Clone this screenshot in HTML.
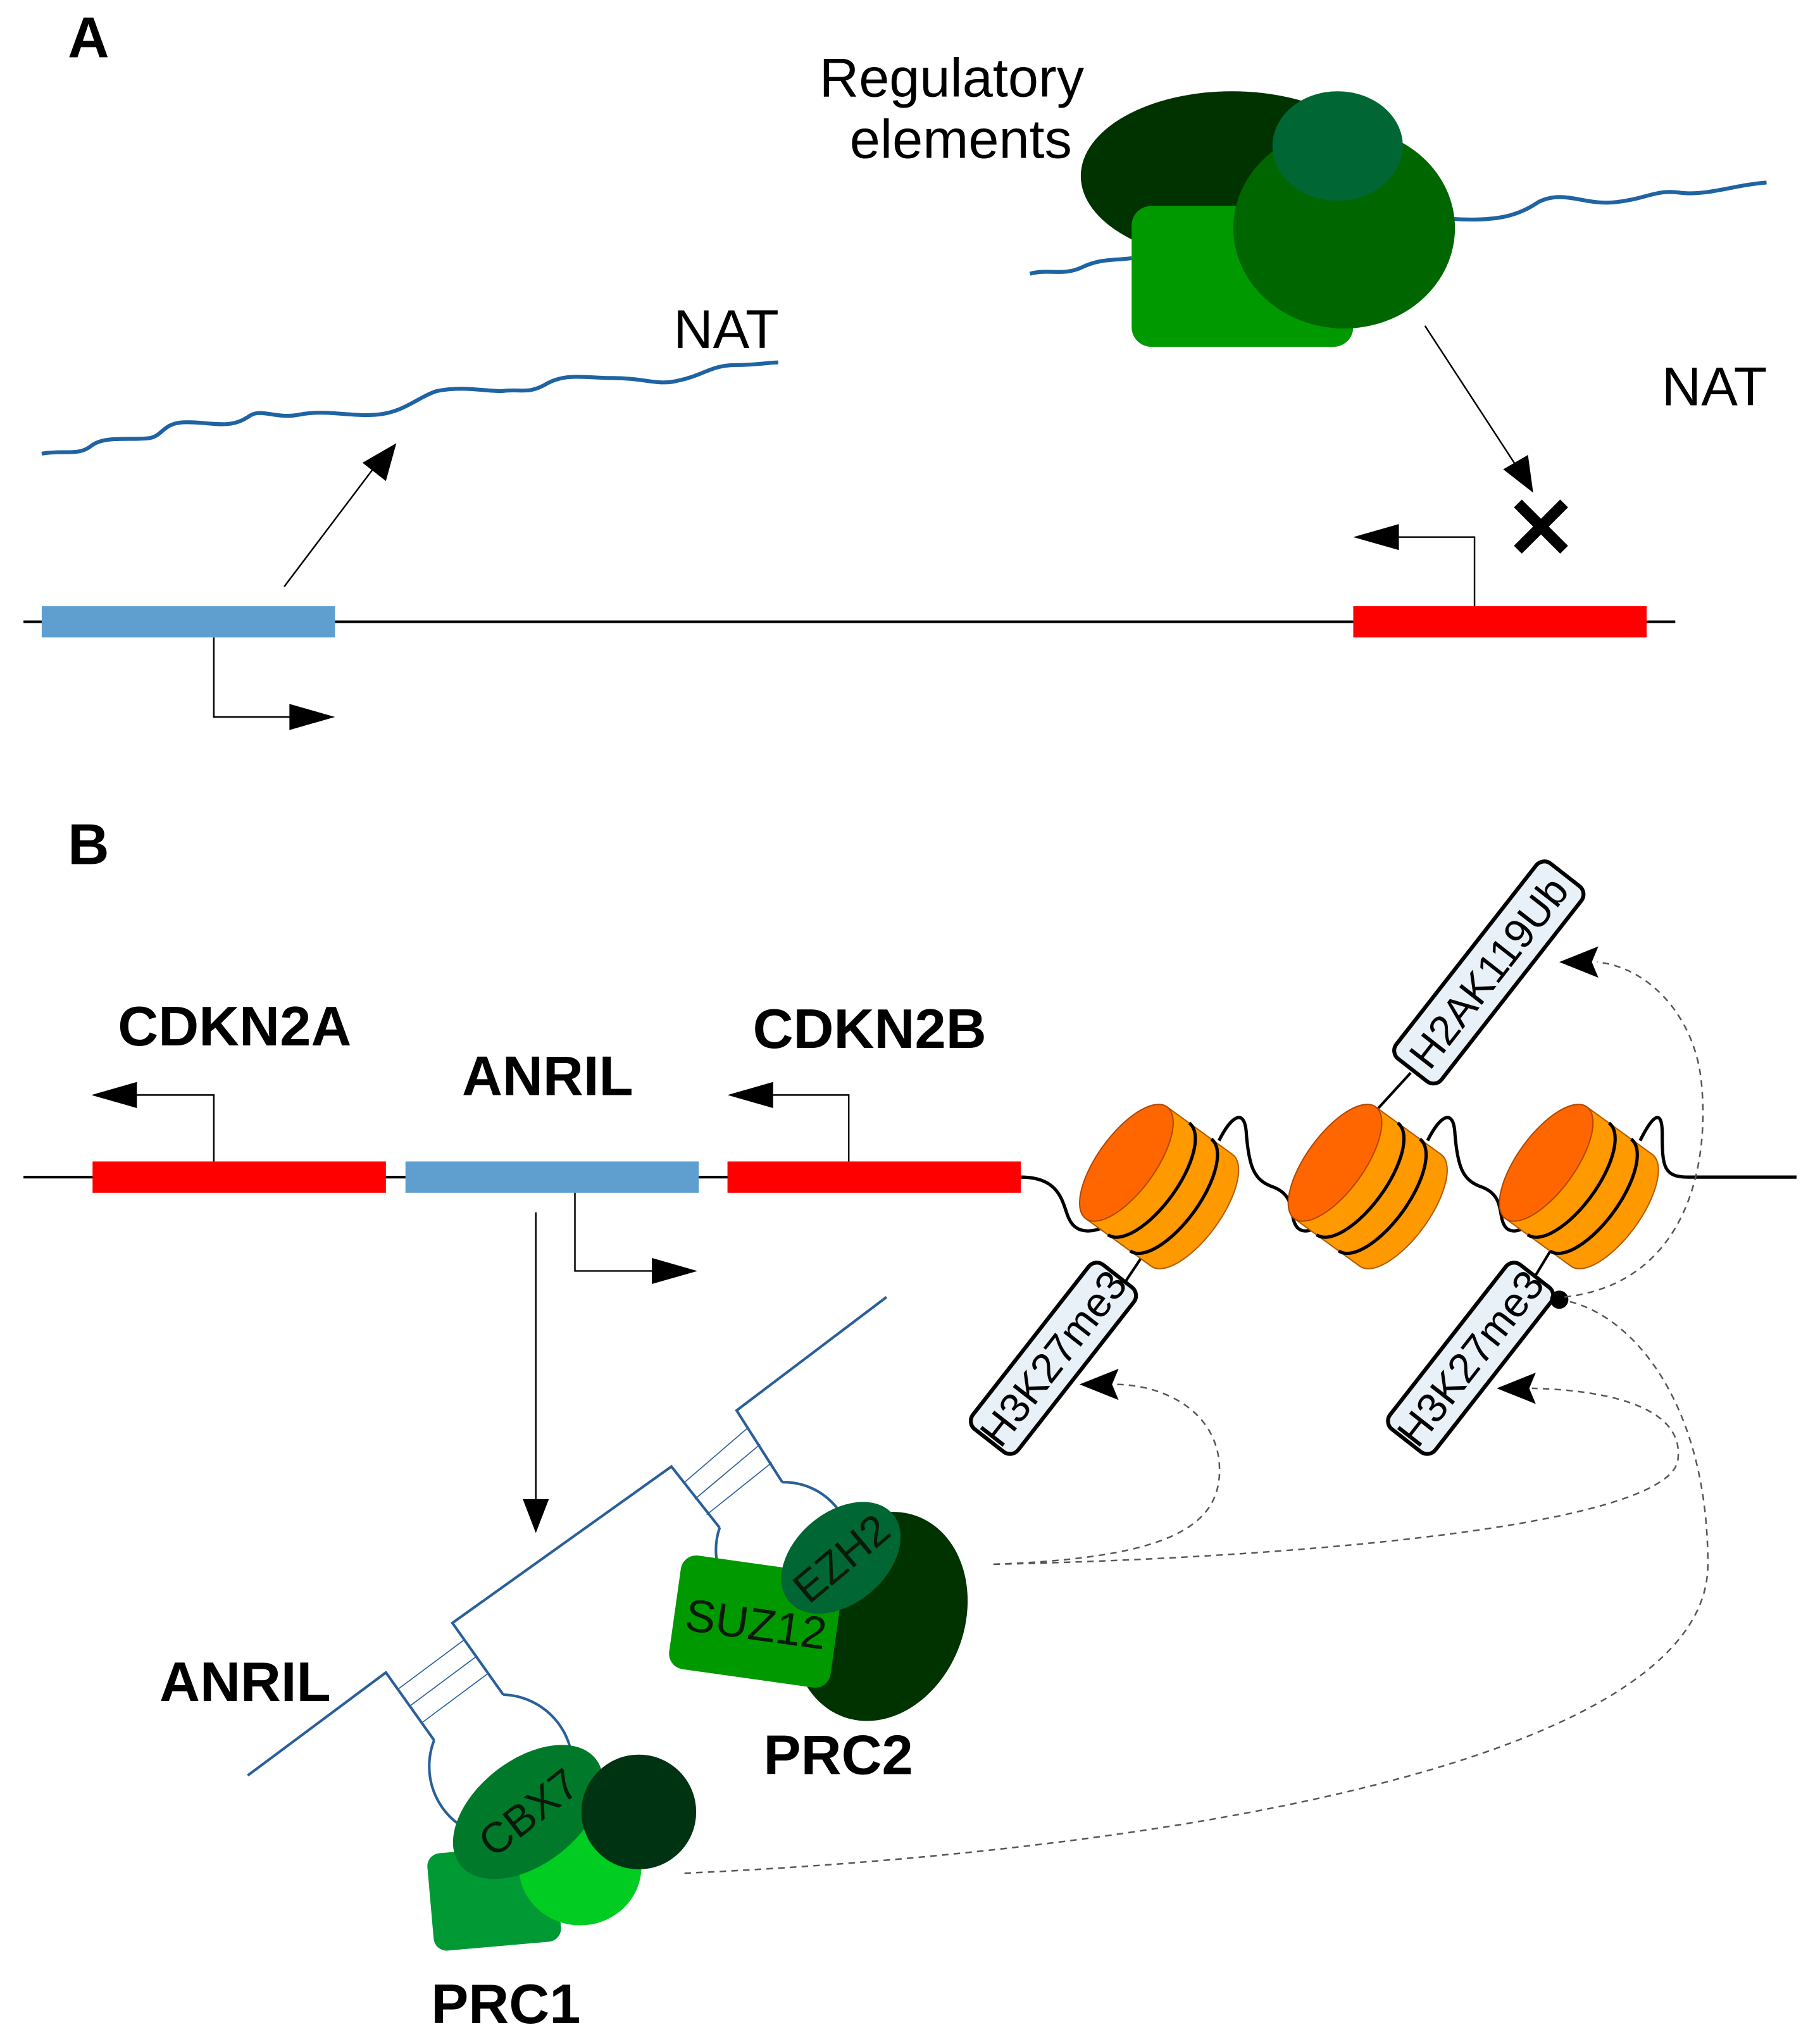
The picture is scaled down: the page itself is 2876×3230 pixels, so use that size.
<!DOCTYPE html>
<html><head><meta charset="utf-8"><style>
html,body{margin:0;padding:0;background:#fff;}
svg{display:block;}
text{font-family:"Liberation Sans",sans-serif;}
</style></head><body>
<svg width="2876" height="3230" viewBox="0 0 1396 1568" preserveAspectRatio="none" xmlns="http://www.w3.org/2000/svg">
<defs>
<g id="nuc">
  <path d="M0,-53 L62,-53 A22 53 0 0 1 62,53 L0,53 Z" fill="#ff9900" stroke="#b35a00" stroke-width="1"/>
  <path d="M21,-53 A22 53 0 0 1 21,53" fill="none" stroke="#000" stroke-width="2.5"/>
  <path d="M42,-53 A22 53 0 0 1 42,53" fill="none" stroke="#000" stroke-width="2.5"/>
  <ellipse cx="0" cy="0" rx="22" ry="53" fill="#ff6600" stroke="#b34700" stroke-width="1"/>
</g>
</defs>

<!-- Panel A -->
<text x="52" y="44" font-size="44" font-weight="bold">A</text>
<text x="730" y="74" font-size="42" text-anchor="middle">Regulatory</text>
<text x="737" y="121" font-size="42" text-anchor="middle">elements</text>

<path d="M790,210 C805,206 815,212 830,205 C845,198 855,200 868,198" fill="none" stroke="#1f63a3" stroke-width="3"/>
<path d="M1115,168 C1150,170 1165,165 1180,155 C1200,145 1215,158 1240,155 C1265,152 1270,145 1290,148 C1310,150 1330,142 1355,140" fill="none" stroke="#1f63a3" stroke-width="3"/>

<ellipse cx="945" cy="135" rx="116" ry="65" fill="#003300"/>
<rect x="868" y="158" width="170" height="108" rx="15" fill="#009900"/>
<ellipse cx="1031" cy="175" rx="85" ry="77" fill="#006600"/>
<ellipse cx="1026" cy="112" rx="50" ry="42" fill="#006633"/>

<text x="557" y="267" font-size="42" text-anchor="middle">NAT</text>
<text x="1315" y="311" font-size="42" text-anchor="middle">NAT</text>

<path d="M32,348 C50,345 60,350 70,342 C80,334 100,338 115,336 C125,334 125,325 140,324 C160,323 175,330 190,320 C200,312 210,322 230,318 C250,314 270,320 290,318 C310,316 320,305 335,300 C355,296 370,300 385,300 C400,298 405,303 420,294 C435,286 450,290 470,290 C495,290 505,296 520,292 C540,288 545,280 565,280 C580,280 590,278 597,278" fill="none" stroke="#1f63a3" stroke-width="3"/>

<line x1="218" y1="450" x2="292" y2="352" stroke="#000" stroke-width="1.2"/>
<polygon points="304,340 296,369 278,355" fill="#000"/>
<line x1="1093" y1="250" x2="1166" y2="362" stroke="#000" stroke-width="1.2"/>
<polygon points="1176,378 1153,360 1172,349" fill="#000"/>
<text x="1182" y="428" font-size="66" font-weight="bold" text-anchor="middle">✕</text>

<line x1="18" y1="477" x2="1285" y2="477" stroke="#000" stroke-width="2"/>
<rect x="32" y="465" width="225" height="24" fill="#5f9fd0"/>
<rect x="1038" y="465" width="225" height="24" fill="#ff0000"/>
<polyline points="164,489 164,550 225,550" fill="none" stroke="#000" stroke-width="1.2"/>
<polygon points="257,550 222,540 222,560" fill="#000"/>
<polyline points="1131,465 1131,412 1070,412" fill="none" stroke="#000" stroke-width="1.2"/>
<polygon points="1038,412 1073,402 1073,422" fill="#000"/>

<!-- Panel B -->
<text x="52" y="663" font-size="44" font-weight="bold">B</text>
<text x="180" y="802" font-size="43" font-weight="bold" text-anchor="middle">CDKN2A</text>
<text x="420" y="840" font-size="43" font-weight="bold" text-anchor="middle">ANRIL</text>
<text x="667" y="804" font-size="43" font-weight="bold" text-anchor="middle">CDKN2B</text>

<line x1="18" y1="903" x2="785" y2="903" stroke="#000" stroke-width="2"/>
<rect x="71" y="891" width="225" height="24" fill="#ff0000"/>
<rect x="311" y="891" width="225" height="24" fill="#5f9fd0"/>
<rect x="558" y="891" width="225" height="24" fill="#ff0000"/>
<polyline points="164,891 164,840 100,840" fill="none" stroke="#000" stroke-width="1.2"/>
<polygon points="70,840 105,830 105,850" fill="#000"/>
<polyline points="651,891 651,840 590,840" fill="none" stroke="#000" stroke-width="1.2"/>
<polygon points="558,840 593,830 593,850" fill="#000"/>
<polyline points="441,915 441,975 505,975" fill="none" stroke="#000" stroke-width="1.2"/>
<polygon points="535,975 500,965 500,985" fill="#000"/>
<line x1="411" y1="930" x2="411" y2="1150" stroke="#000" stroke-width="1.2"/>
<polygon points="411,1176 401,1150 421,1150" fill="#000"/>

<!-- DNA wrap -->
<path d="M783,903 C815,903 815,925 820,935 C826,948 840,945 850,940" fill="none" stroke="#000" stroke-width="2.5"/>
<path d="M935,875 C945,855 955,850 956,870 C958,895 962,905 975,910 C990,915 990,925 992,935 C995,948 1005,945 1012,940" fill="none" stroke="#000" stroke-width="2.5"/>
<path d="M1095,875 C1105,855 1115,850 1116,870 C1118,895 1122,905 1135,910 C1150,915 1150,925 1152,935 C1155,948 1165,945 1172,940" fill="none" stroke="#000" stroke-width="2.5"/>
<path d="M1258,875 C1268,855 1275,850 1275,870 C1275,895 1276,903 1295,903 L1378,903" fill="none" stroke="#000" stroke-width="2.5"/>

<line x1="882" y1="955" x2="860" y2="988" stroke="#000" stroke-width="2"/>
<line x1="1192" y1="955" x2="1172" y2="988" stroke="#000" stroke-width="2"/>
<line x1="1050" y1="858" x2="1082" y2="823" stroke="#000" stroke-width="2"/>

<use href="#nuc" transform="translate(864,892) rotate(36)"/>
<use href="#nuc" transform="translate(1024,892) rotate(36)"/>
<use href="#nuc" transform="translate(1186,892) rotate(36)"/>

<!-- labels -->
<g transform="translate(808,1042) rotate(-52)">
  <rect x="-80" y="-22" width="160" height="44" rx="8" fill="#e8f0f8" stroke="#000" stroke-width="3"/>
  <text x="0" y="11" font-size="32" text-anchor="middle">H3K27me3</text>
</g>
<g transform="translate(1128,1042) rotate(-52)">
  <rect x="-80" y="-22" width="160" height="44" rx="8" fill="#e8f0f8" stroke="#000" stroke-width="3"/>
  <text x="0" y="11" font-size="32" text-anchor="middle">H3K27me3</text>
</g>
<g transform="translate(1142,746) rotate(-52)">
  <rect x="-95" y="-22" width="190" height="44" rx="8" fill="#e8f0f8" stroke="#000" stroke-width="3"/>
  <text x="0" y="11" font-size="32" text-anchor="middle">H2AK119Ub</text>
</g>
<circle cx="1196" cy="997" r="7" fill="#000"/>

<!-- dashed -->
<g fill="none" stroke="#555" stroke-width="1.2" stroke-dasharray="5,4">
<path d="M762,1200 C900,1195 940,1170 935,1120 C930,1080 890,1062 855,1062"/>
<path d="M762,1200 C1000,1195 1280,1170 1287,1120 C1293,1075 1220,1066 1175,1065"/>
<path d="M525,1437 C900,1420 1310,1350 1310,1200 C1310,1080 1255,1010 1202,998"/>
<path d="M1200,995 C1290,985 1312,900 1305,830 C1300,780 1265,742 1225,738"/>
</g>
<polygon points="828,1062 858,1050 853,1062 858,1074" fill="#000"/>
<polygon points="1148,1065 1178,1053 1173,1065 1178,1077" fill="#000"/>
<polygon points="1196,738 1226,726 1221,738 1226,750" fill="#000"/>

<!-- ANRIL RNA -->
<g stroke="#2a5f9a" stroke-width="2" fill="none">
<polyline points="190,1362 296,1283 333,1335"/>
<path d="M333,1335 A55 55 0 1 0 386,1300"/>
<polyline points="386,1300 347,1245 515,1125 552,1172"/>
<path d="M552,1172 A52 52 0 1 0 600,1137"/>
<polyline points="600,1137 565,1082 680,995"/>
</g>
<g stroke="#2a5f9a" stroke-width="0.8">
<line x1="305" y1="1296" x2="356" y2="1258"/>
<line x1="314" y1="1309" x2="365" y2="1271"/>
<line x1="323" y1="1322" x2="374" y2="1284"/>
<line x1="524" y1="1138" x2="574" y2="1095"/>
<line x1="533" y1="1150" x2="583" y2="1108"/>
<line x1="542" y1="1162" x2="592" y2="1122"/>
</g>

<!-- PRC2 -->
<ellipse cx="675" cy="1240" rx="65" ry="82" transform="rotate(20 675 1240)" fill="#003300"/>
<g transform="rotate(8 580 1245)">
<rect x="517" y="1200" width="125" height="88" rx="12" fill="#009900"/>
<text x="580" y="1258" font-size="35" text-anchor="middle" fill="#0a1a0a">SUZ12</text>
</g>
<g transform="translate(645,1195) rotate(-40)">
<ellipse cx="0" cy="0" rx="52" ry="35" fill="#006633"/>
<text x="0" y="12" font-size="33" text-anchor="middle" fill="#0a1a0a">EZH2</text>
</g>
<text x="643" y="1361" font-size="43" font-weight="bold" text-anchor="middle">PRC2</text>

<!-- PRC1 -->
<g transform="rotate(-5 380 1455)">
<rect x="330" y="1418" width="98" height="75" rx="10" fill="#009933"/>
</g>
<ellipse cx="445" cy="1432" rx="47" ry="45" fill="#00cc22"/>
<g transform="translate(405,1390) rotate(-38)">
<ellipse cx="0" cy="0" rx="66" ry="40" fill="#007a2a"/>
<text x="0" y="12" font-size="33" text-anchor="middle" fill="#0a1a0a">CBX7</text>
</g>
<circle cx="490" cy="1390" r="44" fill="#003311"/>
<text x="388" y="1552" font-size="43" font-weight="bold" text-anchor="middle">PRC1</text>
<text x="188" y="1305" font-size="43" font-weight="bold" text-anchor="middle">ANRIL</text>
</svg>
</body></html>
